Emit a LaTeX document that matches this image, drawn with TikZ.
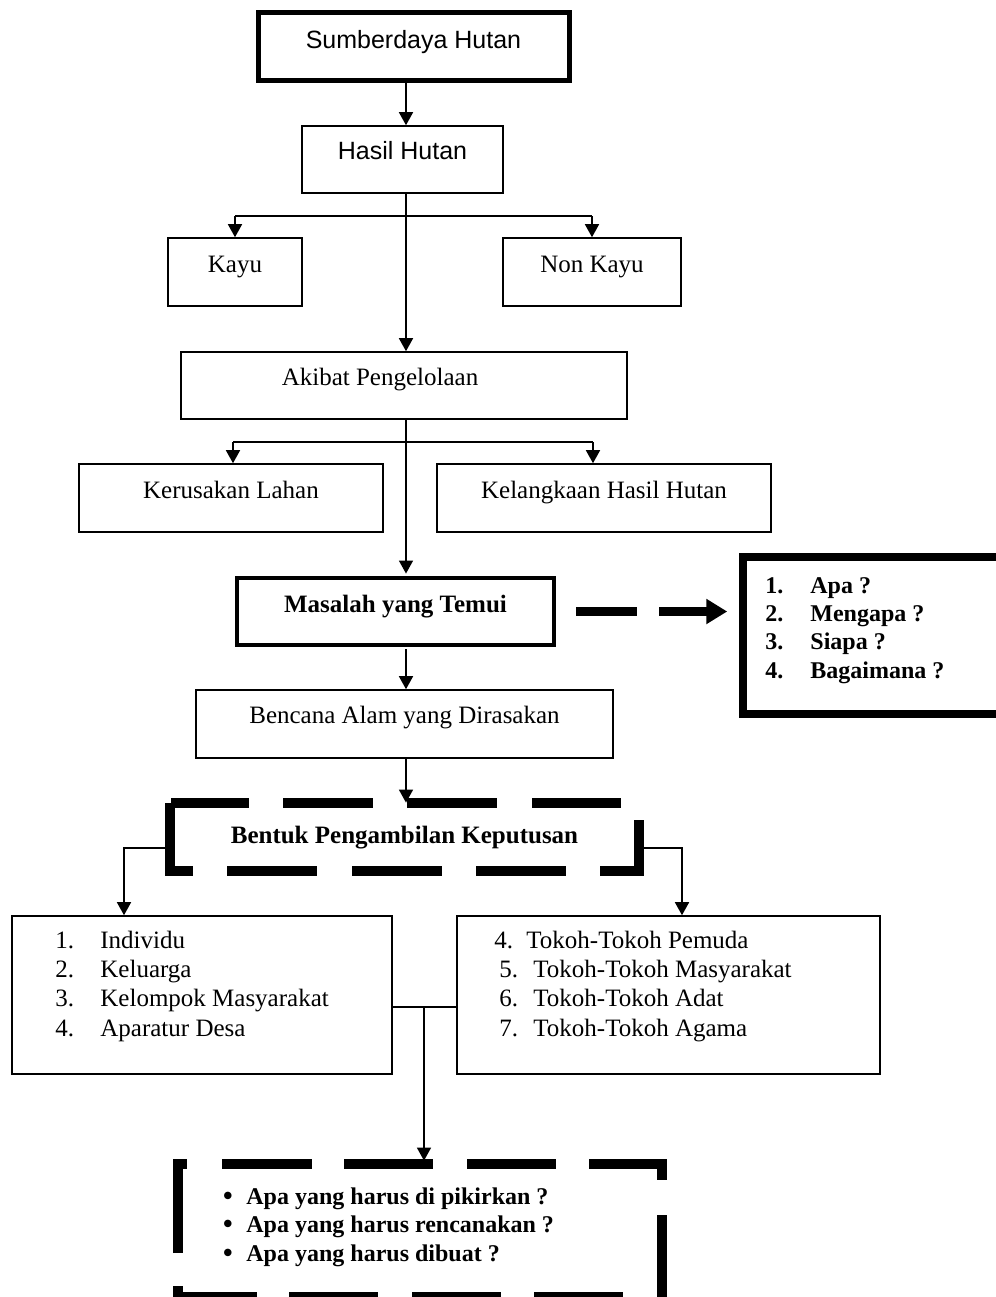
\documentclass[tikz,border=0pt]{standalone}
\usepackage{fontspec}
\setmainfont{Liberation Serif}
\newfontfamily\arialf{Liberation Sans}
\usetikzlibrary{arrows.meta}
\newcommand\mybox[8]{%
 \pgfmathsetmacro\mbw{(#5-#3)*0.5}%
 \pgfmathsetmacro\mbh{(#7-#4)*0.5}%
 \pgfmathsetmacro\mbd{(#6-#7)*0.5}%
 \pgfmathsetmacro\mbx{(#3+#5)/2}%
 \node[#1, anchor=base, inner ysep=0pt, minimum width=\mbw pt, text height=\mbh pt, text depth=\mbd pt] (#2) at (\mbx,#7) {#8};}
\tikzset{
  x=0.5pt, y=-0.5pt,
  every node/.style={font=\fontsize{12.5pt}{14.5pt}\selectfont},
  ln/.style={line width=0.8pt},
  arr/.style={ln, -{Triangle[length=6.5pt,width=7pt]}},
  bbox/.style={draw, line width=0.8pt},
  dseg/.style={line width=5pt, line cap=butt, line join=miter},
  txt/.style={inner sep=0pt, anchor=base west},
  bf/.style={font=\fontsize{12.5pt}{14.5pt}\selectfont\bfseries},
  bfs/.style={font=\fontsize{12pt}{14pt}\selectfont\bfseries},
  sans/.style={font=\arialf\fontsize{12.5pt}{14.5pt}\selectfont},
}
\begin{document}
\begin{tikzpicture}
\useasboundingbox (0,0) rectangle (996,1297);
\clip (0,0) rectangle (996,1297);
\fill[white] (0,0) rectangle (996,1297);

% boxes
\mybox{bbox, line width=2.5pt, sans}{sumber}{258}{12.5}{569}{80}{48}{Sumberdaya Hutan}
\mybox{bbox, sans}{hasil}{302}{126}{503}{193}{159}{Hasil Hutan}
\mybox{bbox}{kayu}{168}{238}{302}{306}{272}{Kayu}
\mybox{bbox}{nonkayu}{503}{238}{681}{306}{272}{Non Kayu}
\mybox{bbox}{akibat}{181}{352}{627}{419}{385}{Akibat Pengelolaan\hspace*{24pt}}
\mybox{bbox}{rusak}{79}{464}{383}{532}{498}{Kerusakan Lahan}
\mybox{bbox}{langka}{437}{464}{771}{532}{498}{Kelangkaan Hasil Hutan}
\mybox{bbox, line width=2.25pt, bf}{masalah}{237}{578}{554}{645}{612}{Masalah yang Temui}
\mybox{bbox}{bencana}{196}{690}{613}{758}{723}{Bencana Alam yang Dirasakan}
\mybox{draw=none, bf}{bentuk}{170}{803}{639}{871}{843}{Bentuk Pengambilan Keputusan}
\mybox{bbox, line width=3.75pt}{apa}{743}{557}{1010}{714}{593}{}
\mybox{bbox}{list1}{12}{916}{392}{1074}{948}{}
\mybox{bbox}{list2}{457}{916}{880}{1074}{948}{}
\mybox{draw=none}{tanya}{178}{1164}{662}{1297}{1204}{}

% spine connectors
\coordinate (s) at (406,0);
\draw[arr] (sumber.south -| s) -- (hasil.north -| s);
\draw[arr] (hasil.south -| s) -- (akibat.north -| s);
\coordinate (b1) at (406,216);
\draw[ln, line width=1.2pt] (kayu.north |- b1) -- (nonkayu.north |- b1);
\draw[arr] (kayu.north |- b1) -- (kayu.north);
\draw[arr] (nonkayu.north |- b1) -- (nonkayu.north);
\coordinate (b2l) at (233,442);
\coordinate (b2r) at (593,442);
\draw[ln, line width=1.2pt] (b2l) -- (b2r);
\draw[arr] (b2l) -- (rusak.north -| b2l);
\draw[arr] (b2r) -- (langka.north -| b2r);
\draw[arr] (akibat.south -| s) -- ([yshift=1.1pt]masalah.north -| s);
\draw[arr] ([yshift=-1.1pt]masalah.south -| s) -- (bencana.north -| s);
\draw[arr] (bencana.south -| s) -- (bentuk.north -| s);

% thick dashed arrow
\draw[line width=4.5pt, dash pattern=on 30.5pt off 11pt, -{Triangle[length=10.5pt,width=12pt]}]
  ([xshift=10pt]masalah.east) -- ([xshift=-6pt]apa.west |- masalah.east);

% connectors to lists
\coordinate (lj) at (124,848);
\coordinate (rj) at (682,848);
\draw[arr] (bentuk.west |- lj) -- (lj) -- (list1.north -| lj);
\draw[arr] (bentuk.east |- rj) -- (rj) -- (list2.north -| rj);
\coordinate (jn) at (424,1007);
\draw[ln] (list1.east |- jn) -- (list2.west |- jn);
\draw[arr] (jn) -- ([yshift=1.5pt]tanya.north -| jn);

% dashed border of Bentuk box
\draw[dseg] (170,803) -- (170,871) -- (193,871);
\draw[dseg] (171,803) -- (249,803);
\draw[dseg] (283,803) -- (373,803);
\draw[dseg] (407,803) -- (497,803);
\draw[dseg] (532,803) -- (621,803);
\draw[dseg] (639,820) -- (639,871) -- (600,871);
\draw[dseg] (227,871) -- (317,871);
\draw[dseg] (352,871) -- (442,871);
\draw[dseg] (476,871) -- (566,871);

% dashed border of bottom box
\draw[dseg] (178,1253) -- (178,1164) -- (187,1164);
\draw[dseg] (222,1164) -- (312,1164);
\draw[dseg] (344,1164) -- (433,1164);
\draw[dseg] (467,1164) -- (556,1164);
\draw[dseg] (589,1164) -- (662,1164) -- (662,1180);
\draw[dseg] (662,1215) -- (662,1310);
\draw[dseg] (534,1297) -- (623,1297);
\draw[dseg] (412,1297) -- (501,1297);
\draw[dseg] (289,1297) -- (378,1297);
\draw[dseg] (257,1297) -- (178,1297) -- (178,1286);

% list texts
\foreach \n/\t [count=\i] in {1./Individu, 2./Keluarga, 3./Kelompok Masyarakat, 4./Aparatur Desa}
  \node[txt] (la\i) at (55,{948+(\i-1)*29.33}) {\makebox[22.5pt][l]{\n}\t};
\node[txt] (lb1) at (494,948) {\makebox[16pt][l]{4.}Tokoh-Tokoh Pemuda};
\foreach \n/\t [count=\i] in {5./Tokoh-Tokoh Masyarakat, 6./Tokoh-Tokoh Adat, 7./Tokoh-Tokoh Agama}
  \node[txt] (lb\n) at (499,{948+\i*29.33}) {\makebox[17pt][l]{\n}\t};
\foreach \n/\t [count=\i] in {1./Apa ?, 2./Mengapa ?, 3./Siapa ?, 4./Bagaimana ?}
  \node[txt, bfs] (q\i) at (765,{593+(\i-1)*28.4}) {\makebox[22.5pt][l]{\n}\t};
\foreach \t [count=\i] in {Apa yang harus di pikirkan ?, Apa yang harus rencanakan ?, Apa yang harus dibuat ?}
  \node[txt, bfs] (t\i) at (223,{1204+(\i-1)*28.5}) {\makebox[11.5pt][l]{{\arialf\bfseries\fontsize{13pt}{14pt}\selectfont\textbullet}}\t};
\end{tikzpicture}
\end{document}
